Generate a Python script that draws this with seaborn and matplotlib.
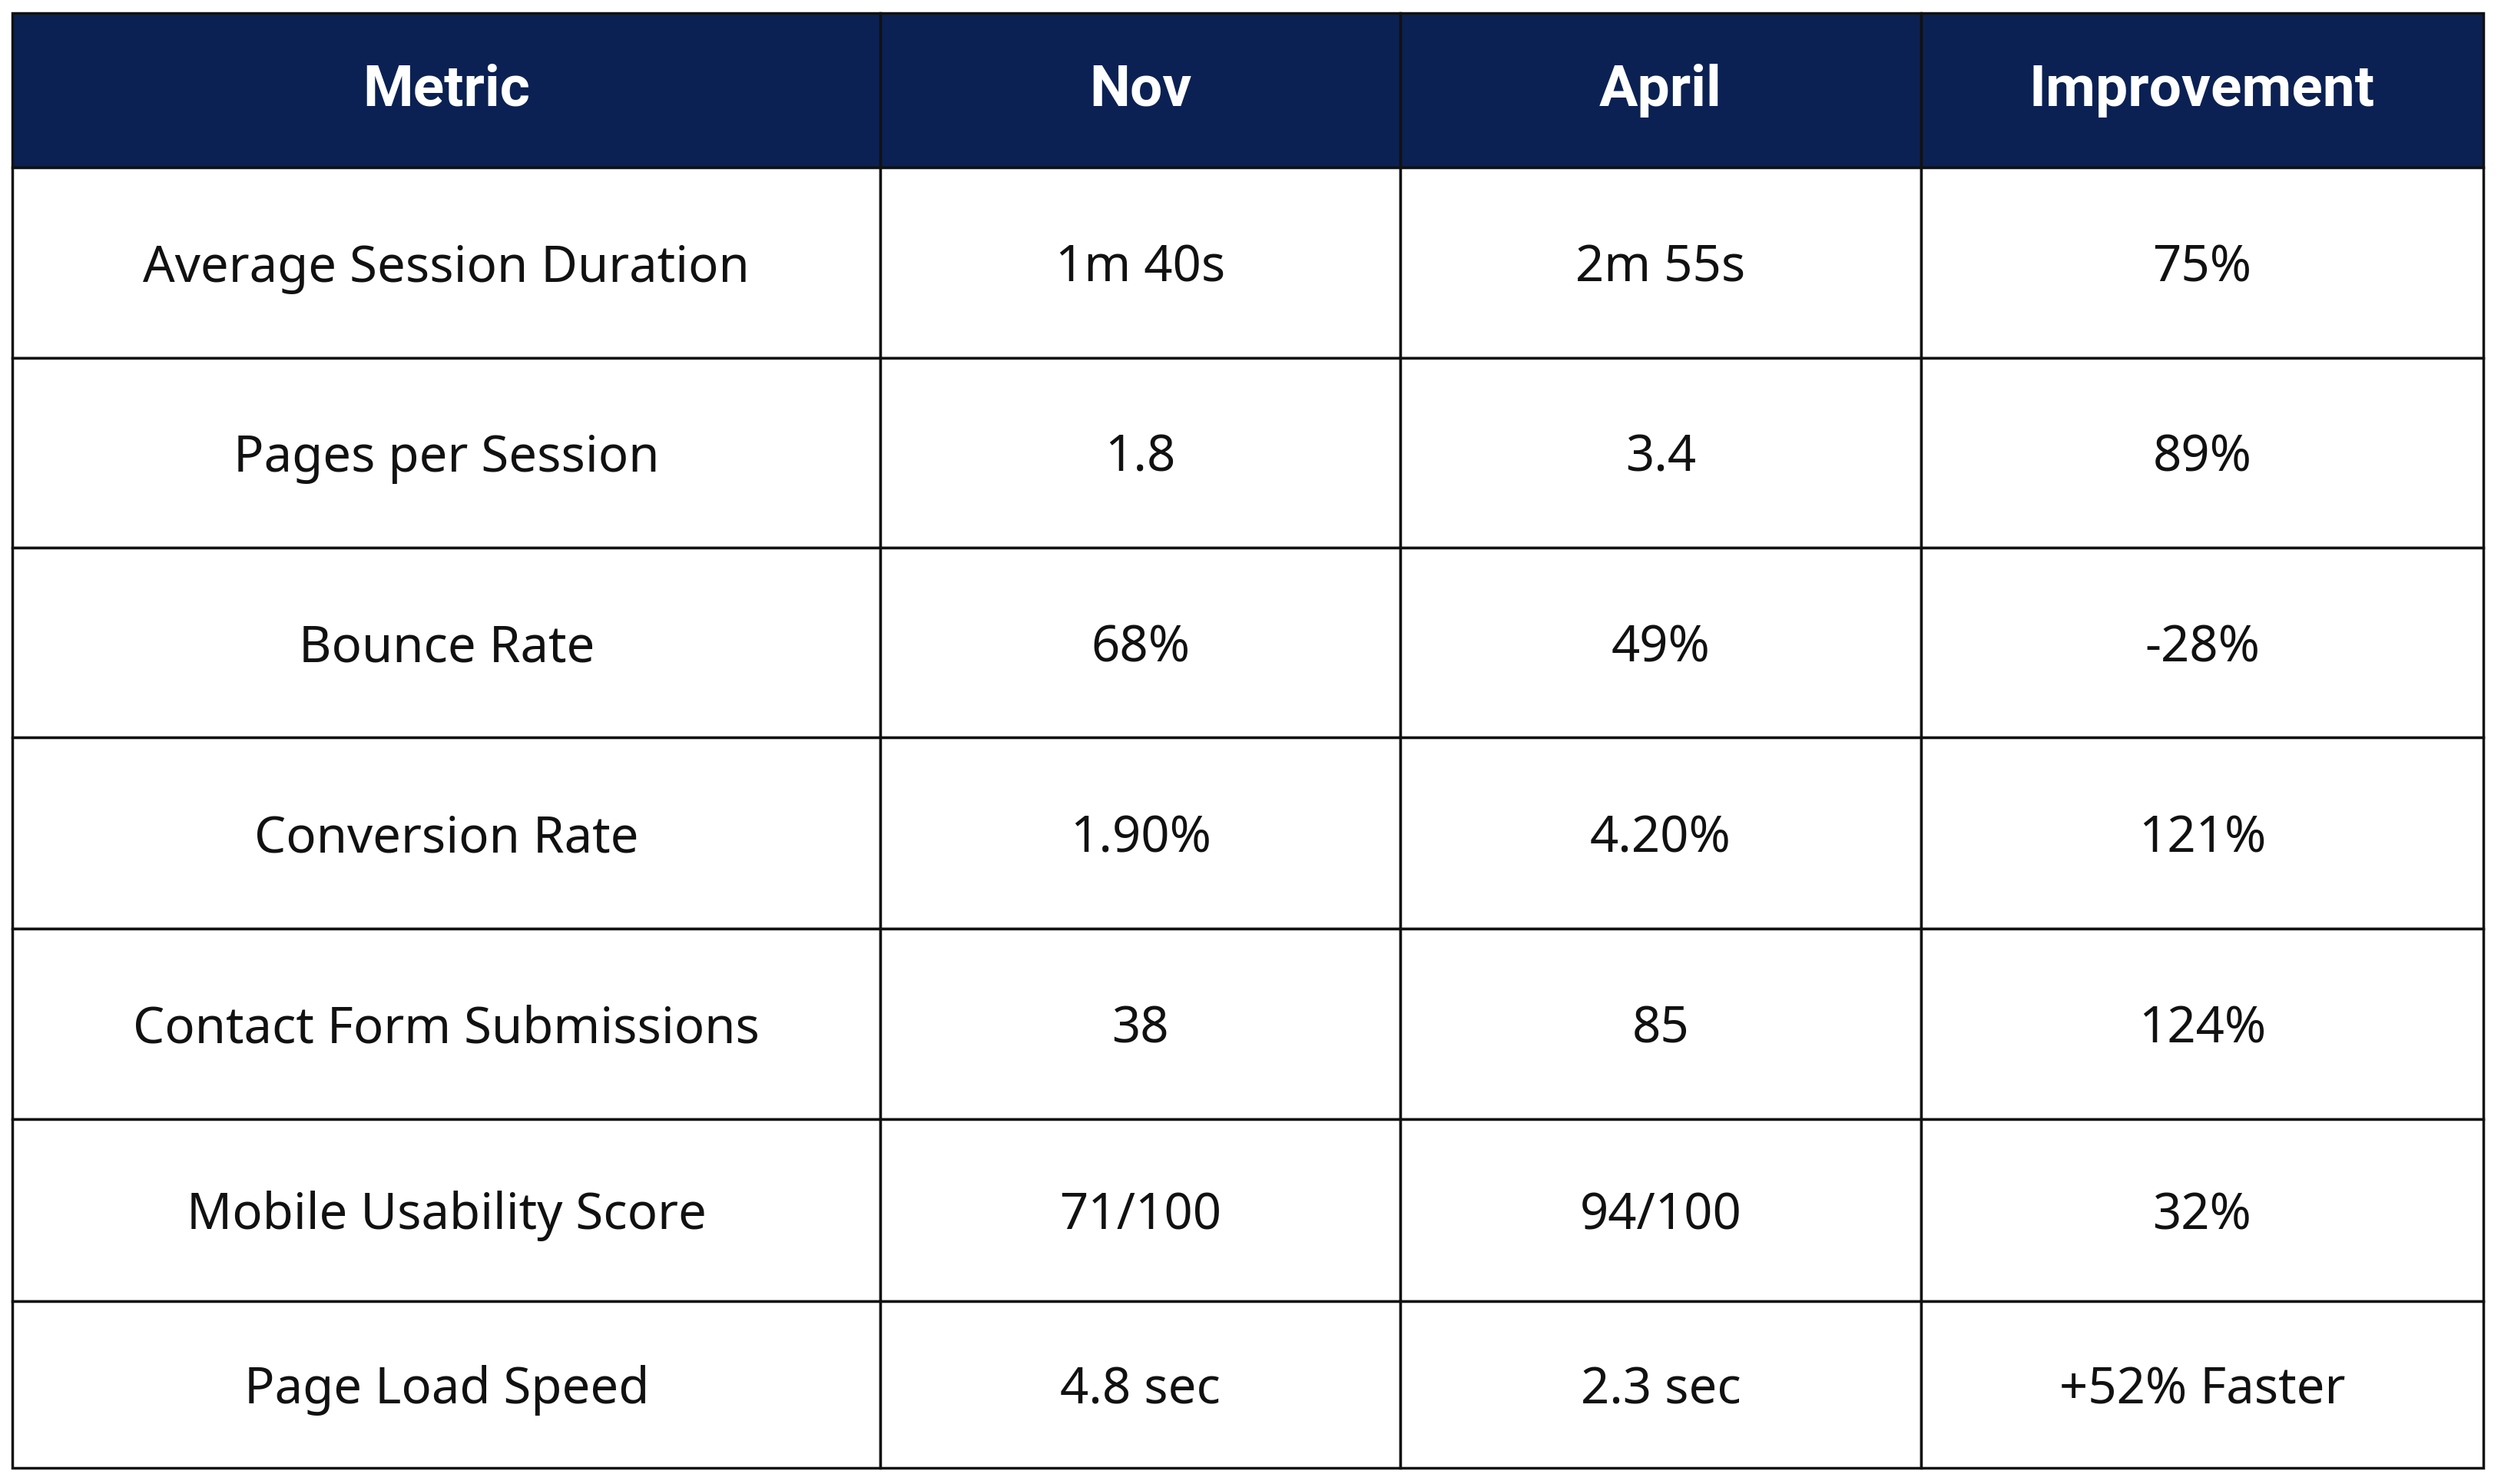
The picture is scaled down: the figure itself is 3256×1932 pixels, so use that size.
import matplotlib.pyplot as plt
import matplotlib.patches as mpatches
import seaborn as sns

# ── Data ─────────────────────────────────────────────────────────────────────
headers = ["Metric", "Nov", "April", "Improvement"]
metrics = ["Average Session Duration", "Pages per Session", "Bounce Rate",
           "Conversion Rate", "Contact Form Submissions", "Mobile Usability Score",
           "Page Load Speed"]
nov = ["1m 40s", "1.8", "68%", "1.90%", "38", "71/100", "4.8 sec"]
april = ["2m 55s", "3.4", "49%", "4.20%", "85", "94/100", "2.3 sec"]
improvement = ["75%", "89%", "-28%", "121%", "124%", "32%", "+52% Faster"]

# ── Layout ───────────────────────────────────────────────────────────────────
sns.set_theme(style="white")
plt.rcParams['font.family'] = ['Noto Sans', 'DejaVu Sans']

col_edges = [0.005, 0.352, 0.560, 0.768, 0.993]
row_edges = [0.009, 0.113, 0.241, 0.369, 0.497, 0.626, 0.754, 0.877, 0.989]
navy = '#0b2154'

fig = plt.figure(figsize=(32.56, 19.32), dpi=100)
ax = fig.add_axes([0, 0, 1, 1])
ax.set_xlim(0, 1)
ax.set_ylim(1, 0)
ax.axis('off')

rows = [headers] + [list(r) for r in zip(metrics, nov, april, improvement)]
for i, row in enumerate(rows):
    y0, y1 = row_edges[i], row_edges[i + 1]
    for j, txt in enumerate(row):
        x0, x1 = col_edges[j], col_edges[j + 1]
        face = navy if i == 0 else 'white'
        ax.add_patch(mpatches.Rectangle((x0, y0), x1 - x0, y1 - y0,
                                        facecolor=face, edgecolor='#111111', lw=2.5))
        if i == 0:
            ax.text((x0 + x1) / 2, (y0 + y1) / 2, txt, ha='center', va='center',
                    fontsize=54, fontweight='bold', color='white',
                    family=['Roboto', 'DejaVu Sans'])
        else:
            ax.text((x0 + x1) / 2, (y0 + y1) / 2 + 0.004, txt, ha='center', va='center',
                    fontsize=47, color='#111111')

plt.savefig('out.png')
